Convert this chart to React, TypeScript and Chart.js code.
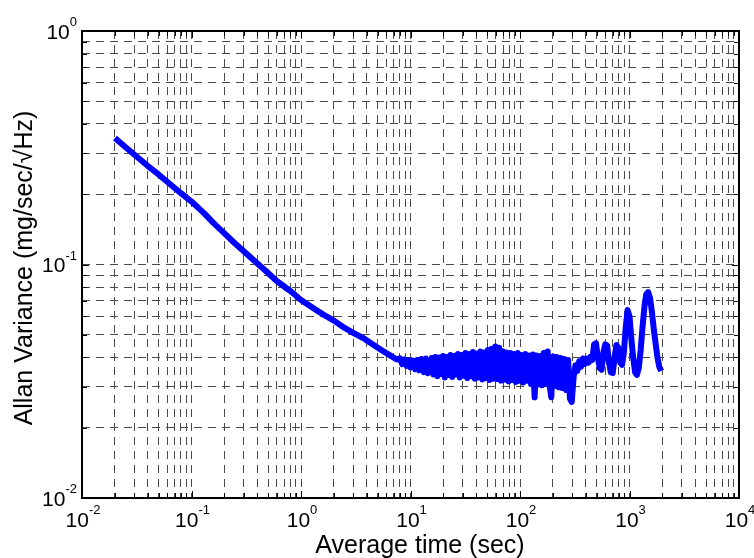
import React, { useEffect, useRef } from 'react';
import { Chart, registerables } from 'chart.js';

Chart.register(...registerables);

// ---- data ----
const tauSec: number[] = [
  0.02, 0.025, 0.03, 0.04, 0.05, 0.06, 0.08, 0.1, 0.13, 0.16, 0.2, 0.25, 0.3, 0.4, 0.5, 0.6, 0.8,
  1.0, 1.3, 1.6, 2.0, 2.5, 3.0, 3.7, 4.5, 5.5, 6.5, 7.5,
  8, 8.4, 8.8, 9.2, 9.6, 10, 10.5, 11, 11.5, 12, 12.6, 13.2, 13.8, 14.4,
  15, 15.6, 16.2, 16.9, 17.6, 18.3, 19.0, 19.8, 20.6, 21.4, 22.3, 23.2, 24.1, 25.1, 26.1, 27.1,
  28.2, 29.4, 30.5, 31.8, 33.0, 34.4, 35.7, 37.2, 38.7, 40.2, 41.8, 43.5, 45.3, 47.1, 49.0, 50.9,
  53.0, 55.1, 57.3, 59.6, 62.0, 64.5, 67.1, 69.8, 72.6, 75.5, 78.5, 81.6, 84.9, 88.3, 91.8, 95.5,
  99.3, 103, 107, 112, 116, 121, 126, 131, 136, 141, 147, 153, 159, 165, 172, 179, 186, 193,
  201, 209, 217, 226, 235, 244, 254, 264, 275, 286, 297, 309, 321, 334, 347, 361, 376, 391,
  406, 423, 440, 457, 475, 494, 514, 535, 556, 578, 601, 625, 650, 676, 703, 731, 760, 790,
  822, 855, 889, 924, 961, 1000, 1040, 1080, 1125, 1170, 1215, 1265, 1315, 1370, 1420, 1480,
  1540, 1600, 1665, 1730, 1800, 1870, 1945,
];

const allanVar: number[] = [
  0.348, 0.318, 0.296, 0.264, 0.243, 0.226, 0.202, 0.186, 0.166, 0.150, 0.136, 0.123, 0.114, 0.101, 0.092, 0.085, 0.077,
  0.0705, 0.065, 0.061, 0.0575, 0.0535, 0.051, 0.0484, 0.0455, 0.0428, 0.0408, 0.0392,
  0.0396, 0.0374, 0.0392, 0.0368, 0.0390, 0.0362, 0.0388, 0.0356, 0.0390, 0.0352, 0.0394, 0.0346, 0.0396, 0.0342,
  0.0360, 0.0398, 0.0338, 0.0402, 0.0332, 0.0400, 0.0340, 0.0406, 0.0328, 0.0402, 0.0336, 0.0410, 0.0330, 0.0406, 0.0338, 0.0414,
  0.0328, 0.0410, 0.0334, 0.0418, 0.0326, 0.0414, 0.0332, 0.0422, 0.0324, 0.0416, 0.0328, 0.0424, 0.0322, 0.0420, 0.0326, 0.0430,
  0.0320, 0.0436, 0.0324, 0.0445, 0.0323, 0.0440, 0.0318, 0.0425, 0.0322, 0.0420, 0.0316, 0.0418, 0.0320, 0.0414, 0.0314, 0.0418,
  0.0318, 0.0410, 0.0312, 0.0414, 0.0318, 0.0408, 0.0308, 0.0412, 0.0270, 0.0408, 0.0306, 0.0406, 0.0304, 0.0418, 0.0308, 0.0424, 0.0306, 0.0270,
  0.0404, 0.0302, 0.0402, 0.0298, 0.0398, 0.0296, 0.0394, 0.0290, 0.0390, 0.0266, 0.0258, 0.0330, 0.0370, 0.0350, 0.0385, 0.0365, 0.0396, 0.0375,
  0.0395, 0.0380, 0.0402, 0.0390, 0.0455, 0.0460, 0.0400, 0.0360, 0.0354, 0.0420, 0.0455, 0.0450, 0.0380, 0.0345, 0.0343, 0.0400, 0.0452, 0.0440,
  0.0380, 0.0372, 0.0420, 0.0540, 0.0638, 0.0600, 0.0480, 0.0400, 0.0345, 0.0337, 0.0360, 0.0430, 0.0540, 0.0660, 0.0745, 0.0762,
  0.0720, 0.0630, 0.0530, 0.0460, 0.0400, 0.0365, 0.0350,
];

const xDecades: number[] = [-2, -1, 0, 1, 2, 3, 4];
const yDecades: number[] = [-2, -1, 0];
const xTitle = 'Average time (sec)';
const yTitle = 'Allan Variance (mg/sec/\u221AHz)';

const FONT = '"Liberation Sans", Arial, Helvetica, sans-serif';

function logTickValues(decs: number[]): number[] {
  const out: number[] = [];
  for (let i = 0; i < decs.length; i++) {
    const b = Math.pow(10, decs[i]);
    out.push(b);
    if (i < decs.length - 1) {
      for (let m = 2; m <= 9; m++) out.push(parseFloat((m * b).toPrecision(6)));
    }
  }
  return out;
}

const xTickVals = logTickValues(xDecades);
const yTickVals = logTickValues(yDecades);

function isDecade(v: number) {
  const l = Math.log10(v);
  return Math.abs(l - Math.round(l)) < 1e-6;
}

const matlabAxes = {
  id: 'matlabAxes',
  beforeDatasetsDraw(chart: any) {
    const { ctx, chartArea: a, scales } = chart;
    ctx.save();
    ctx.strokeStyle = '#000';
    ctx.lineWidth = 1;
    ctx.beginPath();
    for (const v of xTickVals) {
      const x = Math.round(scales.x.getPixelForValue(v)) + 0.5;
      const len = isDecade(v) ? 7 : 5;
      ctx.moveTo(x, a.bottom); ctx.lineTo(x, a.bottom - len);
      ctx.moveTo(x, a.top); ctx.lineTo(x, a.top + len);
    }
    for (const v of yTickVals) {
      const y = Math.round(scales.y.getPixelForValue(v)) + 0.5;
      const len = isDecade(v) ? 7 : 5;
      ctx.moveTo(a.left, y); ctx.lineTo(a.left + len, y);
      ctx.moveTo(a.right, y); ctx.lineTo(a.right - len, y);
    }
    ctx.stroke();
    ctx.restore();
  },
  afterDatasetsDraw(chart: any) {
    const { ctx, chartArea: a } = chart;
    ctx.save();
    ctx.strokeStyle = '#000';
    ctx.lineWidth = 2;
    ctx.strokeRect(a.left, a.top, a.right - a.left, a.bottom - a.top);
    ctx.restore();
  },
  afterDraw(chart: any) {
    const { ctx, chartArea: a, scales } = chart;
    ctx.save();
    ctx.fillStyle = '#000';
    ctx.textBaseline = 'alphabetic';
    ctx.textAlign = 'left';
    const mainFont = `21px ${FONT}`;
    const supFont = `13px ${FONT}`;
    const capH = 15;
    // x tick labels
    for (const e of xDecades) {
      const x = scales.x.getPixelForValue(Math.pow(10, e));
      ctx.font = mainFont;
      const w10 = ctx.measureText('10').width;
      ctx.font = supFont;
      const es = String(e);
      const we = ctx.measureText(es).width;
      const start = x - (w10 + we) / 2 + 1;
      const base = a.bottom + 29;
      ctx.font = mainFont;
      ctx.fillText('10', start, base);
      ctx.font = supFont;
      ctx.fillText(es, start + w10, base - capH + 2);
    }
    // y tick labels
    for (const e of yDecades) {
      const y = scales.y.getPixelForValue(Math.pow(10, e));
      ctx.font = supFont;
      const es = String(e);
      const we = ctx.measureText(es).width;
      ctx.font = mainFont;
      const w10 = ctx.measureText('10').width;
      const right = a.left - 5;
      const base = y + capH / 2;
      ctx.fillText('10', right - we - w10, base);
      ctx.font = supFont;
      ctx.fillText(es, right - we, base - capH + 2.5);
    }
    // axis titles
    ctx.font = `25px ${FONT}`;
    ctx.textAlign = 'center';
    ctx.fillText(xTitle, 420, 553);
    ctx.save();
    ctx.translate(32, 268);
    ctx.rotate(-Math.PI / 2);
    ctx.fillText(yTitle, 0, 0);
    ctx.restore();
    ctx.restore();
  },
};

export default function App() {
  const canvasRef = useRef<HTMLCanvasElement | null>(null);

  useEffect(() => {
    document.body.style.margin = '0';
    const canvas = canvasRef.current;
    if (!canvas) return;
    const chart = new Chart(canvas, {
      type: 'scatter',
      data: {
        datasets: [
          {
            data: tauSec.map((t, i) => ({ x: t, y: allanVar[i] })),
            showLine: true,
            borderColor: '#0000ff',
            backgroundColor: '#0000ff',
            borderWidth: 6,
            pointRadius: 0,
            pointHoverRadius: 0,
            borderJoinStyle: 'round',
            borderCapStyle: 'butt',
            tension: 0,
            fill: false,
          } as any,
        ],
      },
      options: {
        responsive: false,
        animation: false,
        devicePixelRatio: 1,
        layout: { padding: { top: 31, right: 15, bottom: 0, left: 0 } },
        plugins: { legend: { display: false }, tooltip: { enabled: false } },
        events: [],
        scales: {
          x: {
            type: 'logarithmic',
            min: 0.01,
            max: 10000,
            afterBuildTicks: (s: any) => { s.ticks = xTickVals.map((v) => ({ value: v })); },
            afterFit: (s: any) => { s.height = 60; },
            ticks: { display: false },
            grid: { color: '#4a4a4a', lineWidth: 1, drawTicks: false },
            border: { display: false, dash: [8, 6] },
          },
          y: {
            type: 'logarithmic',
            min: 0.01,
            max: 1,
            afterBuildTicks: (s: any) => { s.ticks = yTickVals.map((v) => ({ value: v })); },
            afterFit: (s: any) => { s.width = 82; },
            ticks: { display: false },
            grid: { color: '#4a4a4a', lineWidth: 1, drawTicks: false },
            border: { display: false, dash: [8, 6] },
          },
        } as any,
      },
      plugins: [matlabAxes as any],
    });
    return () => chart.destroy();
  }, []);

  return (
    <div style={{ width: 754, height: 558, background: '#fff' }}>
      <canvas ref={canvasRef} width={754} height={558} style={{ display: 'block' }} />
    </div>
  );
}
